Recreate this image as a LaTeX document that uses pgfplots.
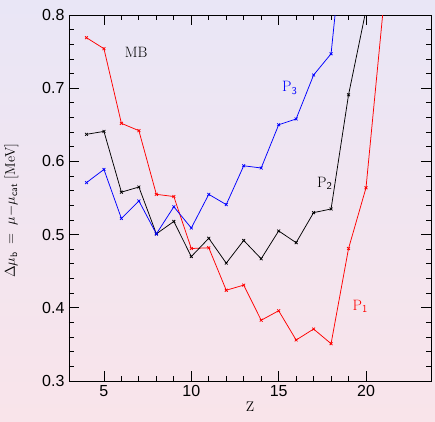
\documentclass[border=0pt]{standalone}
\usepackage{pgfplots}
\pgfplotsset{compat=1.18}
\usepackage{fontspec}
\newfontfamily\ticksans{Liberation Sans}
\definecolor{bgtop}{RGB}{233,230,246}
\definecolor{bgbot}{RGB}{249,228,234}

\begin{document}
\begin{tikzpicture}
\shade[top color=bgtop, bottom color=bgbot] (-69pt,-40pt) rectangle (366pt,381pt);
\useasboundingbox (-69pt,-40pt) rectangle (366pt,381pt);
\begin{axis}[
  at={(0,0)}, anchor=south west,
  scale only axis, width=362pt, height=366pt,
  xmin=3, xmax=23.72, ymin=0.3, ymax=0.8,
  xtick={5,10,15,20}, minor x tick num=4,
  ytick={0.3,0.4,...,0.81}, minor y tick num=4,
  yticklabel style={/pgf/number format/fixed, /pgf/number format/precision=1, /pgf/number format/fixed zerofill},
  tick align=inside,
  major tick length=10pt, minor tick length=5pt,
  tick style={black, line width=0.8pt},
  axis line style={line width=0.9pt},
  /pgf/number format/assume math mode=true,
  ticklabel style={font=\ticksans\fontsize{16}{16}\selectfont},
  xticklabel style={yshift=-1pt},
  yticklabel style={xshift=-1pt},
  xlabel={Z}, xlabel style={font=\fontsize{14}{14}\selectfont, yshift=2pt},
  ylabel={$\Delta\mu_{\mathsf{b}}\;=\;\mu{-}\mu_{\mathsf{cat}}$\ [MeV]},
  ylabel style={font=\fontsize{14}{14}\selectfont, at={(axis description cs:-0.13,0.465)}},
  clip=true,
  every axis plot/.append style={line width=0.75pt, mark=x, mark size=2pt, mark options={line width=0.75pt}},
]
% P1
\addplot[red] coordinates {
 (4,0.769) (5,0.754) (6,0.652) (7,0.642) (8,0.555) (9,0.552) (10,0.481)
 (11,0.482) (12,0.424) (13,0.431) (14,0.383) (15,0.396) (16,0.356)
 (17,0.371) (18,0.351) (19,0.481) (20,0.564) (21,0.812)};
% P2
\addplot[black] coordinates {
 (4,0.637) (5,0.641) (6,0.558) (7,0.565) (8,0.501) (9,0.518) (10,0.470)
 (11,0.495) (12,0.461) (13,0.492) (14,0.467) (15,0.505) (16,0.489)
 (17,0.530) (18,0.535) (19,0.691) (20,0.807)};
% P3
\addplot[blue] coordinates {
 (4,0.571) (5,0.589) (6,0.522) (7,0.546) (8,0.501) (9,0.538) (10,0.509)
 (11,0.555) (12,0.541) (13,0.594) (14,0.591) (15,0.650) (16,0.658)
 (17,0.718) (18,0.747) (19,0.98)};
\node[anchor=base west, font=\fontsize{15}{15}\selectfont] at (axis cs:6.0,0.7426) {MB};
\node[anchor=base west, blue, font=\fontsize{15}{15}\selectfont] at (axis cs:15.0,0.695) {P$_{\mathsf{3}}$};
\node[anchor=base west, black, font=\fontsize{15}{15}\selectfont] at (axis cs:17.0,0.565) {P$_{\mathsf{2}}$};
\node[anchor=base west, red, font=\fontsize{15}{15}\selectfont] at (axis cs:19.03,0.396) {P$_{\mathsf{1}}$};
\end{axis}
\end{tikzpicture}
\end{document}
